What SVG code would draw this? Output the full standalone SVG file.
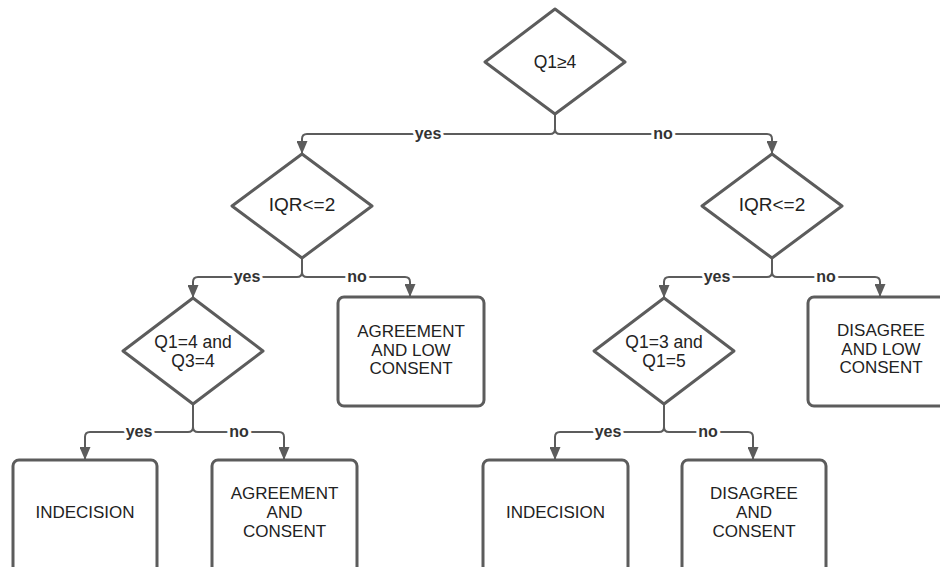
<svg xmlns="http://www.w3.org/2000/svg" width="940" height="567" viewBox="0 0 940 567">
<defs>
<style>
.shape{fill:#fff;stroke:#5c5c5c;stroke-width:3;stroke-linejoin:round}
.conn{fill:none;stroke:#5c5c5c;stroke-width:2}
.t{font-family:"Liberation Sans",Arial,sans-serif;font-size:17px;fill:#222;text-anchor:middle}
.dt{font-family:"Liberation Sans",Arial,sans-serif;font-size:17.5px;fill:#222;text-anchor:middle}
.lbl{font-family:"Liberation Sans",Arial,sans-serif;font-size:16px;font-weight:bold;fill:#333;text-anchor:middle;stroke:#fff;stroke-width:6;paint-order:stroke;stroke-linejoin:round}
</style>
<marker id="arr" markerUnits="userSpaceOnUse" markerWidth="13" markerHeight="11" refX="13" refY="5.5" orient="auto">
<path d="M0,0 L13,5.5 L0,11 z" fill="#5c5c5c"/>
</marker>
</defs>
<rect width="940" height="567" fill="#fff"/>
<g id="connectors">
<path class="conn" marker-end="url(#arr)" d="M555,114 V129 Q555,134 550,134 H307 Q302,134 302,139 V154"/>
<path class="conn" marker-end="url(#arr)" d="M555,114 V129 Q555,134 560,134 H767 Q772,134 772,139 V154"/>
<path class="conn" marker-end="url(#arr)" d="M302,258 V272 Q302,277 297,277 H198 Q193,277 193,282 V298"/>
<path class="conn" marker-end="url(#arr)" d="M302,258 V272 Q302,277 307,277 H405 Q410,277 410,282 V297"/>
<path class="conn" marker-end="url(#arr)" d="M772,258 V272 Q772,277 767,277 H669 Q664,277 664,282 V298"/>
<path class="conn" marker-end="url(#arr)" d="M772,258 V272 Q772,277 777,277 H875 Q880,277 880,282 V297"/>
<path class="conn" marker-end="url(#arr)" d="M193,404 V427 Q193,432 188,432 H90 Q85,432 85,437 V460"/>
<path class="conn" marker-end="url(#arr)" d="M193,404 V427 Q193,432 198,432 H279 Q284,432 284,437 V460"/>
<path class="conn" marker-end="url(#arr)" d="M664,404 V427 Q664,432 659,432 H560 Q555,432 555,437 V460"/>
<path class="conn" marker-end="url(#arr)" d="M664,404 V427 Q664,432 669,432 H748 Q753,432 753,437 V460"/>
<text class="lbl" x="428" y="139">yes</text>
<text class="lbl" x="663" y="139">no</text>
<text class="lbl" x="247" y="282">yes</text>
<text class="lbl" x="357" y="282">no</text>
<text class="lbl" x="717" y="282">yes</text>
<text class="lbl" x="826" y="282">no</text>
<text class="lbl" x="139" y="437">yes</text>
<text class="lbl" x="239" y="437">no</text>
<text class="lbl" x="608" y="437">yes</text>
<text class="lbl" x="708" y="437">no</text>
</g>
<g id="q1ge4">
<polygon class="shape" points="555,9 625,62 555,114 485,62"/>
<text class="dt" x="555" y="68">Q1≥4</text>
</g>
<g id="iqr-left">
<polygon class="shape" points="302,154 372,206 302,258 232,206"/>
<text class="dt" x="302" y="211" style="font-size:19px">IQR&lt;=2</text>
</g>
<g id="iqr-right">
<polygon class="shape" points="772,154 842,206 772,258 702,206"/>
<text class="dt" x="772" y="211" style="font-size:19px">IQR&lt;=2</text>
</g>
<g id="q1eq4">
<polygon class="shape" points="193,298 263,351 193,404 123,351"/>
<text class="dt" x="193" y="348">Q1=4 and</text>
<text class="dt" x="193" y="367">Q3=4</text>
</g>
<g id="q1eq3">
<polygon class="shape" points="664,298 734,351 664,404 594,351"/>
<text class="dt" x="664" y="348">Q1=3 and</text>
<text class="dt" x="664" y="367">Q1=5</text>
</g>
<g id="agree-low">
<rect class="shape" x="338" y="297" width="146" height="109" rx="6"/>
<text class="t" x="411" y="337">AGREEMENT</text>
<text class="t" x="411" y="355.5">AND LOW</text>
<text class="t" x="411" y="374">CONSENT</text>
</g>
<g id="disagree-low">
<rect class="shape" x="808" y="297" width="146" height="109" rx="6"/>
<text class="t" x="881" y="336">DISAGREE</text>
<text class="t" x="881" y="354.5">AND LOW</text>
<text class="t" x="881" y="373">CONSENT</text>
</g>
<g id="indecision-left">
<rect class="shape" x="13" y="460" width="144" height="120" rx="6"/>
<text class="t" x="85" y="518">INDECISION</text>
</g>
<g id="agree-consent">
<rect class="shape" x="212" y="460" width="145" height="120" rx="6"/>
<text class="t" x="284.5" y="499">AGREEMENT</text>
<text class="t" x="284.5" y="518">AND</text>
<text class="t" x="284.5" y="537">CONSENT</text>
</g>
<g id="indecision-right">
<rect class="shape" x="483" y="460" width="145" height="120" rx="6"/>
<text class="t" x="555.5" y="518">INDECISION</text>
</g>
<g id="disagree-consent">
<rect class="shape" x="682" y="460" width="144" height="120" rx="6"/>
<text class="t" x="754" y="499">DISAGREE</text>
<text class="t" x="754" y="518">AND</text>
<text class="t" x="754" y="537">CONSENT</text>
</g>
</svg>
